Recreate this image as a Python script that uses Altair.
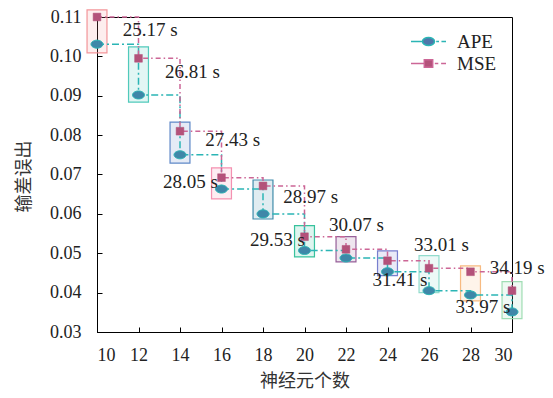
import altair as alt
import pandas as pd

neurons = [10, 12, 14, 16, 18, 20, 22, 24, 26, 28, 30]
ape = [0.1031, 0.0902, 0.0750, 0.0663, 0.0600, 0.0507, 0.0488, 0.0453, 0.0405, 0.0394, 0.0351]
mse = [0.1100, 0.0995, 0.0810, 0.0692, 0.0671, 0.0542, 0.0510, 0.0481, 0.0462, 0.0453, 0.0405]
box_top = [0.1118, 0.1024, 0.0833, 0.0717, 0.0686, 0.0570, 0.0542, 0.0506, 0.0494, 0.0468, 0.0428]
box_bottom = [0.1009, 0.0884, 0.0729, 0.0638, 0.0587, 0.0491, 0.0478, 0.0443, 0.0400, 0.0379, 0.0334]
box_colors = ["#f28b8f", "#3fc4b4", "#4f7cc2", "#f385a9", "#2e82a3", "#22bb92",
              "#8c4f8e", "#6a72c9", "#86d8c8", "#f6b274", "#96d9ac"]
time_labels = ["25.17 s", "26.81 s", "27.43 s", "28.05 s", "28.97 s", "29.53 s",
               "30.07 s", "31.41 s", "33.01 s", "33.97 s", "34.19 s"]
label_x = [12.57, 14.6, 16.54, 14.5, 20.3, 18.7, 22.5, 24.6, 26.6, 28.6, 30.25]
label_y = [0.1067, 0.0960, 0.0788, 0.0681, 0.0643, 0.0534, 0.0572, 0.0433, 0.0521, 0.0364, 0.0463]
y_ticks = [0.03, 0.04, 0.05, 0.06, 0.07, 0.08, 0.09, 0.10, 0.11]
series = ["APE", "MSE"]

df = pd.DataFrame({"n": neurons, "ape": ape, "mse": mse, "top": box_top,
                   "bottom": box_bottom, "bc": box_colors})
lab = pd.DataFrame({"t": time_labels, "lx": label_x, "ly": label_y})
long = pd.DataFrame({"n": neurons * 2, "value": ape + mse,
                     "series": ["APE"] * len(neurons) + ["MSE"] * len(neurons)})

xs = alt.Scale(domain=[10, 30], nice=False, zero=False)
ys = alt.Scale(domain=[0.03, 0.11], nice=False, zero=False)
SERIF = "Liberation Serif, Times New Roman, DejaVu Serif, serif"
CJK = "Noto Sans CJK SC"
TEAL = "#2bb5b5"
PINK = "#cc6696"

box_base = alt.Chart(df).transform_calculate(lo="datum.n - 0.48", hi="datum.n + 0.48")
box_enc = dict(
    x=alt.X("lo:Q", scale=xs, axis=None),
    x2="hi:Q",
    y=alt.Y("top:Q", scale=ys, axis=None),
    y2="bottom:Q",
    color=alt.Color("bc:N", scale=None, legend=None),
)
box_fill = box_base.mark_rect(filled=True, opacity=0.15).encode(**box_enc)
box_edge = box_base.mark_rect(filled=False, strokeWidth=1.2, opacity=0.9).encode(**box_enc)

ape_line = alt.Chart(df).mark_line(
    interpolate="step-after", color=TEAL, strokeWidth=1.5, strokeDash=[7, 3, 2, 3]
).encode(
    x=alt.X("n:Q", scale=xs, axis=alt.Axis(
        title="神经元个数", values=neurons, format="d", ticks=False, tickSize=0,
        labelPadding=14, labelFont=SERIF, labelFontSize=18, labelColor="#222",
        domainColor="#000", grid=False, titleFont=CJK, titleFontSize=18,
        titleFontWeight="normal", titleColor="#333", titleY=49, titleX=207.5,
        titleBaseline="middle", titleAlign="center")),
    y=alt.Y("ape:Q", scale=ys, axis=alt.Axis(
        title="输差误出", values=y_ticks, format=".2f", ticks=False, tickSize=0,
        labelPadding=16, labelFont=SERIF, labelFontSize=18, labelColor="#222",
        domainColor="#000", grid=False, titleFont=CJK, titleFontSize=18,
        titleFontWeight="normal", titleColor="#333", titleX=-73, titleY=159,
        titleAngle=270, titleBaseline="middle", titleAlign="center")),
)

mse_line = alt.Chart(df).mark_line(
    interpolate="step-after", color=PINK, strokeWidth=1.5, strokeDash=[5, 3, 1.5, 3]
).encode(
    x=alt.X("n:Q", scale=xs, axis=alt.Axis(
        orient="top", offset=-315, labels=False, domain=False, ticks=True,
        tickSize=5, tickColor="#000", title=None, values=neurons, grid=False)),
    y=alt.Y("mse:Q", scale=ys, axis=alt.Axis(
        orient="right", offset=-415, labels=False, domain=False, ticks=True,
        tickSize=5, tickColor="#000", title=None, values=y_ticks, grid=False)),
)

ellipse = "M-1,0A1,0.667,0,1,0,1,0A1,0.667,0,1,0,-1,0Z"
ape_pts = alt.Chart(df).mark_point(
    shape=ellipse, size=144, filled=True, fill="#3f87a8", stroke=TEAL,
    strokeWidth=1, opacity=1
).encode(
    x=alt.X("n:Q", scale=xs, axis=None),
    y=alt.Y("ape:Q", scale=ys, axis=None),
)

mse_pts = alt.Chart(df).mark_point(
    shape="square", size=60, filled=True, fill="#b3527a", stroke="#b3527a",
    strokeWidth=0.5, opacity=1
).encode(
    x=alt.X("n:Q", scale=xs, axis=None),
    y=alt.Y("mse:Q", scale=ys, axis=None),
)

texts = alt.Chart(lab).mark_text(
    font=SERIF, fontSize=19, color="#222", align="center", baseline="middle"
).encode(
    x=alt.X("lx:Q", scale=xs, axis=None),
    y=alt.Y("ly:Q", scale=ys, axis=None),
    text="t:N",
)

ape_leg_path = ("M-2.5,0H-0.85M1.1,0H1.5M1.85,0H2.5"
                "M-0.857,0A0.857,0.571,0,1,0,0.857,0A0.857,0.571,0,1,0,-0.857,0Z")
mse_leg_path = ("M-2.5,0H-0.6M0.9,0H1.4M1.8,0H2.5"
                "M-0.6,-0.55H0.6V0.55H-0.6Z")

leg = alt.Legend(
    title=None, orient="none", legendX=322, legendY=15, symbolSize=196,
    labelFont=SERIF, labelFontSize=19, labelColor="#222", labelOffset=19,
    rowPadding=2, symbolStrokeWidth=1.5, padding=0,
)

legend_layer = alt.Chart(long).transform_filter("false").mark_point(
    filled=True, opacity=1, strokeWidth=1.5
).encode(
    x=alt.X("n:Q", scale=xs, axis=None),
    y=alt.Y("value:Q", scale=ys, axis=None),
    fill=alt.Fill("series:N", scale=alt.Scale(domain=series, range=["#4f77aa", "#b3527a"]), legend=leg),
    stroke=alt.Stroke("series:N", scale=alt.Scale(domain=series, range=[TEAL, PINK]), legend=leg),
    shape=alt.Shape("series:N", scale=alt.Scale(domain=series, range=[ape_leg_path, mse_leg_path]), legend=leg),
)

chart = alt.layer(
    box_fill, box_edge, ape_line, mse_line, ape_pts, mse_pts, texts, legend_layer
).resolve_axis(
    x="independent", y="independent"
).properties(
    width=415, height=315,
    padding={"left": 89, "top": 9, "right": 33, "bottom": 58},
    autosize=alt.AutoSizeParams(type="none"),
).configure(
    background="white"
).configure_view(
    stroke="#000", strokeWidth=1
)

chart.save("out.html", embed_options={"renderer": "svg", "actions": False})
